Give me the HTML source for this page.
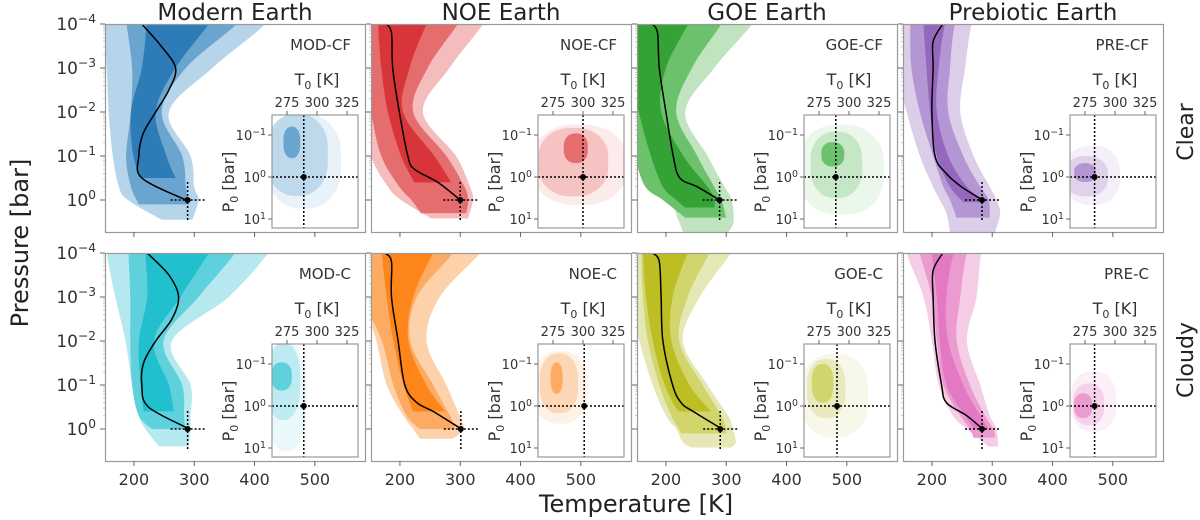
<!DOCTYPE html>
<html><head><meta charset="utf-8">
<style>
html,body{margin:0;padding:0;background:#fff;}
svg{display:block;font-family:"DejaVu Sans","Liberation Sans",sans-serif;}
</style></head>
<body>
<svg id="fig" width="1200" height="520" viewBox="0 0 1200 520" xmlns="http://www.w3.org/2000/svg">
<g id="layer"></g>
<text x="0" y="0" transform="translate(28,243) rotate(-90)" text-anchor="middle" font-size="24" fill="#222">Pressure [bar]</text>
<text x="636" y="512" text-anchor="middle" font-size="24" fill="#222">Temperature [K]</text>
<text transform="translate(1193,132) rotate(-90)" text-anchor="middle" font-size="22" fill="#222">Clear</text>
<text transform="translate(1193,360) rotate(-90)" text-anchor="middle" font-size="22" fill="#222">Cloudy</text>
</svg>
<script>
// ---- data (temperature K vs log10 pressure bar) ----
const colTitles = ["Modern Earth","NOE Earth","GOE Earth","Prebiotic Earth"];
const xTicks = [200,300,400,500];
const yTicksExp = [-4,-3,-2,-1,0];
const insetTicksT = [275,300,325];
const insetTicksP = [-1,0,1];
const panelLabels = ["MOD-CF","NOE-CF","GOE-CF","PRE-CF","MOD-C","NOE-C","GOE-C","PRE-C"];
// band arrays: [logP, Tleft, Tright]
const modcfOuter=[[-4,150,418],[-3,155,330],[-2,158,258],[-1,165,294],[-0.3,175,300],[0,190,307],[0.45,246,297]];
const modcfMid=[[-4,188,370],[-3,197,286],[-2,195,246],[-1,187,280],[-0.3,195,286],[0.1,208,291]];
const modcfInner=[[-4,221,324],[-3,213,269],[-2,195,236],[-1,199,254],[-0.5,213,269]];
const modcfMedian=[[-4,213],[-3.5,245],[-3,269],[-2.5,258],[-2,236],[-1.5,215],[-1,208],[-0.5,213],[0,286]];
const noecfOuter=[[-4,140,338],[-3,140,282],[-2,140,238],[-1,152,293],[-0.3,180,316],[0,202,321],[0.42,252,313]];
const noecfMid=[[-4,140,296],[-3,140,246],[-2,152,222],[-1,169,277],[-0.3,199,307],[0,219,313],[0.3,235,310]];
const noecfInner=[[-4,164,244],[-3,169,216],[-2,180,205],[-1,202,257],[-0.4,224,285]];
const noecfMedian=[[-4,177],[-3.8,186],[-3,188],[-2,199],[-1,213],[-0.7,224],[-0.4,263],[0,300]];
const goecfOuter=[[-4,140,343],[-3,140,280],[-2,140,232],[-1,155,269],[-0.3,183,297],[0,206,309],[0.5,222,312],[0.75,229,302]];
const goecfMid=[[-4,140,292],[-3,140,243],[-2,140,217],[-1,149,252],[-0.3,166,280],[0,195,292],[0.4,232,300]];
const goecfInner=[[-4,140,237],[-3,140,200],[-2,155,192],[-1,175,229],[-0.3,195,269],[0,217,280],[0.17,232,280]];
const goecfMedian=[[-4,177],[-3.8,186],[-3,189],[-2,200],[-1,212],[-0.5,223],[-0.3,252],[0,289]];
const precfOuter=[[-4,140,266],[-3,140,255],[-2,158,247],[-1,180,269],[-0.3,202,296],[0,213,307],[0.3,224,313],[0.73,230,305]];
const precfMid=[[-4,164,238],[-3,166,230],[-2,180,227],[-1,202,252],[-0.3,219,280],[0,230,294],[0.4,241,296]];
const precfInner=[[-4,186,222],[-3,191,211],[-2,197,208],[-1,208,227],[-0.3,230,258],[0.05,252,291]];
const precfMedian=[[-4,218],[-3.6,202],[-3,202],[-2,200],[-1,205],[-0.6,224],[-0.3,249],[0,284]];
const modcOuter=[[-4,155,423],[-3,169,357],[-2,186,263],[-1,197,294],[-0.3,208,294],[0,219,294],[0.39,241,291]];
const modcMid=[[-4,191,368],[-3,194,307],[-2,194,249],[-1,197,280],[-0.3,208,283],[0,230,285]];
const modcInner=[[-4,219,324],[-3,222,277],[-2,208,233],[-1,211,258],[-0.4,216,266]];
const modcMedian=[[-4,222],[-3.5,258],[-3,274],[-2.5,263],[-2,236],[-1.5,216],[-1,213],[-0.5,224],[0,292]];
const noecOuter=[[-4,140,333],[-3,140,266],[-2,161,244],[-1,178,277],[-0.3,206,299],[0,222,305],[0.22,233,288]];
const noecMid=[[-4,140,288],[-3,140,228],[-2,170,217],[-1,189,255],[-0.3,211,283],[0,233,291]];
const noecInner=[[-4,170,255],[-3,178,222],[-2,189,214],[-1,206,244],[-0.4,222,275]];
const noecMedian=[[-4,175],[-3.8,186],[-3,186],[-2,197],[-1,208],[-0.6,228],[-0.4,255],[0,302]];
const goecOuter=[[-4,140,308],[-3,140,256],[-2,156,228],[-1,178,269],[-0.3,200,303],[0,217,311],[0.3,228,316],[0.42,242,308]];
const goecMid=[[-4,159,272],[-3,162,236],[-2,170,222],[-1,189,261],[-0.3,209,292],[0,222,300],[0.1,225,300]];
const goecInner=[[-4,162,236],[-3,167,211],[-2,178,209],[-1,198,239],[-0.4,220,275]];
const goecMedian=[[-4,178],[-3.8,189],[-3,192],[-2,195],[-1,211],[-0.6,225],[-0.4,245],[0,293]];
const precOuter=[[-4,158,282],[-3,186,274],[-2,200,258],[-1,211,280],[-0.3,235,296],[0,258,307],[0.4,294,310]];
const precMid=[[-4,180,258],[-3,200,247],[-2,208,241],[-1,219,263],[-0.3,247,288],[0,263,302],[0.2,269,305]];
const precInner=[[-4,200,236],[-3,208,224],[-2,213,227],[-1,224,252],[-0.3,255,280],[0,269,294]];
const precMedian=[[-4,218],[-3.6,202],[-3,202],[-2,205],[-1,216],[-0.6,224],[-0.3,258],[0,284]];
// surface point [T0, logP0]
const surface=[[289,0],[300,0],[289,0],[283,0],[289,0],[301,0],[290,0],[283,0]];
// inset blobs: [Tmin,Tmax,logPmin,logPmax] outer, mid, inner
const insetOuter=[[258,320,-1.5,0.75],[258,336,-1.25,0.67],[258,329,-1.25,0.9],[258,304,-0.75,0.67],[258,291,-1.5,1.08],[258,304,-1.3,0.42],[260,316,-1.25,0.75],[263,301,-0.83,0.62]];
const insetMid=[[258,309,-1.5,0.45],[263,321,-1.17,0.46],[268,311,-1.08,0.5],[258,294,-0.5,0.46],[258,286,-1.5,0.33],[264,296,-1.25,0.17],[265,297,-1.12,0.29],[265,291,-0.54,0.46]];
const insetInner=[[272,286,-1.2,-0.45],[284,304,-1.04,-0.33],[277,296,-0.83,-0.25],[266,284,-0.33,0.12],[262,279,-1.04,-0.37],[273,283,-1.04,-0.29],[269,287,-1.0,-0.08],[266,281,-0.3,0.29]];

const bands=[[modcfOuter,modcfMid,modcfInner,modcfMedian],[noecfOuter,noecfMid,noecfInner,noecfMedian],[goecfOuter,goecfMid,goecfInner,goecfMedian],[precfOuter,precfMid,precfInner,precfMedian],
[modcOuter,modcMid,modcInner,modcMedian],[noecOuter,noecMid,noecInner,noecMedian],[goecOuter,goecMid,goecInner,goecMedian],[precOuter,precMid,precInner,precMedian]];
const palettes=[["#b7d5ea","#6aa5d0","#2d7cb8"],["#f4bcbc","#e56d6e","#d8353a"],["#bfe4bf","#6cc16c","#35a236"],["#dccde9","#b596d5","#9568bd"],
["#b6e9ef","#5fd1dc","#22bfcf"],["#fdd2ab","#fdab63","#fe8519"],["#e5e7b5","#d2d46c","#bdbe24"],["#f5cde7","#eb9bcf","#e279c2"]];

// ---- layout ----
const NS="http://www.w3.org/2000/svg";
const layer=document.getElementById('layer');
const colX=[105,371,637,903], rowY=[24,253], PW=260, PH=208;
function xs(x0,T){return x0+(T-152)*0.603;}
function ys(y0,lp){return y0+(lp+4)*44;}
function ixs(x0,T){return x0+167+(T-262.5)*1.2;}
function iys(y0,lp){return y0+153+lp*42;}
function mk(tag,attrs,parent){const e=document.createElementNS(NS,tag);for(const k in attrs)e.setAttribute(k,attrs[k]);(parent||layer).appendChild(e);return e;}
function smooth(pts,start){
  let d=(start?'M':'L')+pts[0][0].toFixed(1)+','+pts[0][1].toFixed(1);
  for(let i=0;i<pts.length-1;i++){
    const p0=pts[Math.max(0,i-1)],p1=pts[i],p2=pts[i+1],p3=pts[Math.min(pts.length-1,i+2)];
    const c1=[p1[0]+(p2[0]-p0[0])/6,p1[1]+(p2[1]-p0[1])/6],c2=[p2[0]-(p3[0]-p1[0])/6,p2[1]-(p3[1]-p1[1])/6];
    d+='C'+c1[0].toFixed(1)+','+c1[1].toFixed(1)+' '+c2[0].toFixed(1)+','+c2[1].toFixed(1)+' '+p2[0].toFixed(1)+','+p2[1].toFixed(1);
  }
  return d;
}
function sup(parent,x,y,base,exp,size,anchor){
  const t=mk('text',{x:x,y:y,'font-size':size,fill:'#333','text-anchor':anchor},parent);
  
  
  const a=document.createElementNS(NS,'tspan');a.textContent=base;t.appendChild(a);
  const b=document.createElementNS(NS,'tspan');b.setAttribute('dy',-size*0.4);b.setAttribute('font-size',size*0.72);b.textContent=exp;t.appendChild(b);
  return t;
}
const defs=mk('defs',{});
for(let p=0;p<8;p++){
  const col=p%4,row=Math.floor(p/4),x0=colX[col],y0=rowY[row];
  const g=mk('g',{});
  
  
  const cp=mk('clipPath',{id:'c'+p},defs);mk('rect',{x:x0,y:y0,width:PW,height:PH},cp);
  const cg=mk('g',{'clip-path':'url(#c'+p+')'},g);
  const pal=palettes[p];
  for(let b=0;b<3;b++){
    const arr=bands[p][b];
    const L=arr.map(r=>[xs(x0,r[1]),ys(y0,r[0])]);
    const R=arr.slice().reverse().map(r=>[xs(x0,r[2]),ys(y0,r[0])]);
    L.unshift([L[0][0],y0-20]);R.push([R[R.length-1][0]+10,y0-20]);
    const poly=mk('path',{d:smooth(L,true)+smooth(R,false)+'Z',fill:pal[b]},cg);
    
    
  }
  const med=bands[p][3];
  const ml=mk('path',{d:smooth(med.map(r=>[xs(x0,r[1]),ys(y0,r[0])]),true),fill:'none',stroke:'#000','stroke-width':1.5},cg);
  
  
  const sx=xs(x0,surface[p][0]),sy=ys(y0,surface[p][1]);
  mk('line',{x1:sx,x2:sx,y1:sy-18,y2:sy+20,stroke:'#000','stroke-width':1.5,'stroke-dasharray':'2,2'},cg);
  mk('line',{x1:sx-17,x2:sx+17,y1:sy,y2:sy,stroke:'#000','stroke-width':1.5,'stroke-dasharray':'2,2'},cg);
  const dot=mk('circle',{cx:sx,cy:sy,r:3,fill:'#000'},cg);
  
  
  const fr=mk('rect',{x:x0+0.5,y:y0+0.5,width:PW,height:PH,fill:'none',stroke:'#999','stroke-width':1.2},g);
  
  
  const lb=mk('text',{x:x0+246,y:y0+26,'text-anchor':'end','font-size':15,fill:'#333'},g);
  lb.textContent=panelLabels[p];
  
  
  xTicks.forEach(t=>{const x=xs(x0,t);mk('line',{x1:x,x2:x,y1:y0+PH,y2:y0+PH+5,stroke:'#666'},g);
    if(row===1){const tl=mk('text',{x:x,y:y0+PH+24,'text-anchor':'middle','font-size':16,fill:'#333'},g);tl.textContent=t;
      
      }});
  yTicksExp.forEach(e=>{const y=ys(y0,e);mk('line',{x1:x0-5,x2:x0,y1:y,y2:y,stroke:'#666'},g);
    for(let m=2;m<10;m++){const ym=y-Math.log10(m)*44;if(ym>y0)mk('line',{x1:x0-2,x2:x0,y1:ym,y2:ym,stroke:'#aaa','stroke-width':0.6},g);}
    if(col===0)sup(g,x0-9,y+6,'10',String(e).replace('-','\u2212'),17,'end');});
  // inset
  const ix0=x0+167,iy0=y0+91,iw=86,ih=113;
  const ig=mk('g',{},g);
  
  
  const icp=mk('clipPath',{id:'ic'+p},defs);mk('rect',{x:ix0,y:iy0,width:iw,height:ih},icp);
  const icg=mk('g',{'clip-path':'url(#ic'+p+')'},ig);
  [[insetOuter,pal[0],0.3],[insetMid,pal[0],0.85],[insetInner,pal[1],1]].forEach((lv,i)=>{
    const b=lv[0][p];const x1=ixs(x0,b[0]),x2=ixs(x0,b[1]),y1=iys(y0,b[2]),y2=iys(y0,b[3]);
    const el=mk('rect',{x:x1,y:y1,width:x2-x1,height:y2-y1,rx:(x2-x1)*0.45,ry:(y2-y1)*0.4,fill:lv[1],'fill-opacity':lv[2]},icg);
    
    
  });
  const ix=ixs(x0,surface[p][0]),iy=iys(y0,surface[p][1]);
  mk('line',{x1:ix,x2:ix,y1:iy0,y2:iy0+ih,stroke:'#000','stroke-width':1.5,'stroke-dasharray':'2,2'},icg);
  mk('line',{x1:ix0,x2:ix0+iw,y1:iy,y2:iy,stroke:'#000','stroke-width':1.5,'stroke-dasharray':'2,2'},icg);
  mk('circle',{cx:ix,cy:iy,r:3,fill:'#000'},icg);
  mk('rect',{x:ix0,y:iy0,width:iw,height:ih,fill:'none',stroke:'#999','stroke-width':1.2},ig);
  insetTicksT.forEach(t=>{const x=ixs(x0,t);mk('line',{x1:x,x2:x,y1:iy0-4,y2:iy0,stroke:'#666'},ig);
    const tl=mk('text',{x:x,y:iy0-8,'text-anchor':'middle','font-size':13,fill:'#333'},ig);tl.textContent=t;
    
    });
  insetTicksP.forEach(e=>{const y=iys(y0,e);mk('line',{x1:ix0-4,x2:ix0,y1:y,y2:y,stroke:'#666'},ig);
    sup(ig,ix0-6,y+5,'10',String(e).replace('-','\u2212'),13,'end');});
  const tt=mk('text',{x:ixs(x0,300),y:iy0-30,'text-anchor':'middle','font-size':16,fill:'#333'},ig);
  
  
  tt.innerHTML='T<tspan font-size="11" dy="4">0</tspan><tspan dy="-4"> [K]</tspan>';
  const pt=mk('text',{transform:'translate('+(ix0-38)+','+(y0+158)+') rotate(-90)','text-anchor':'middle','font-size':16,fill:'#333'},ig);
  
  
  pt.innerHTML='P<tspan font-size="11" dy="4">0</tspan><tspan dy="-4"> [bar]</tspan>';
}
colTitles.forEach((t,i)=>{const e=mk('text',{x:colX[i]+130,y:20,'text-anchor':'middle','font-size':23,fill:'#222'});e.textContent=t;
  
  });
</script>
</body></html>
